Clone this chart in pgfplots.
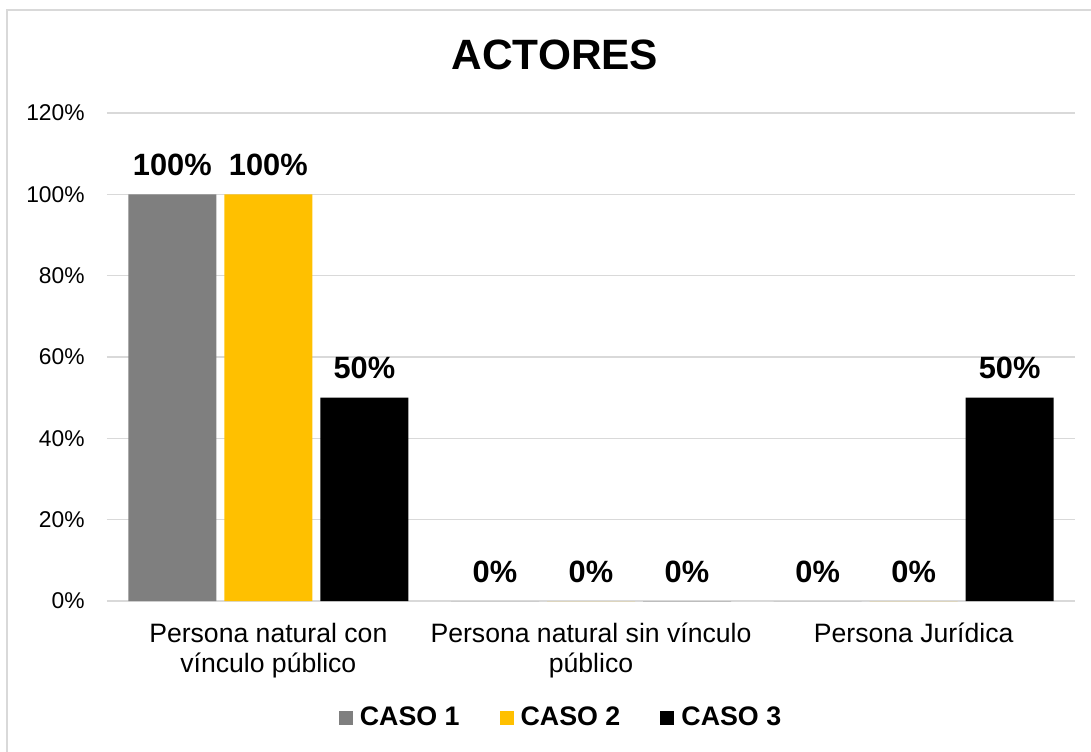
\documentclass[border=0pt]{standalone}
\usepackage{pgfplots}
\pgfplotsset{compat=1.18}
\usepackage{fontspec}
\setmainfont{Liberation Sans}
\definecolor{c1}{HTML}{7F7F7F}
\definecolor{c2}{HTML}{FFC000}
\definecolor{c3}{HTML}{000000}
\definecolor{gridc}{HTML}{D9D9D9}
\begin{document}
\begin{tikzpicture}
\begin{axis}[
  name=ax,
  at={(0,0)}, anchor=south west,
  scale only axis,
  width=484pt, height=244pt,
  ybar=4pt, bar width=44pt,
  xmin=-0.5, xmax=2.5,
  ymin=0, ymax=120,
  enlargelimits=false,
  xtick={0,1,2},
  xticklabels={{\rule{0pt}{12pt}Persona natural con\\vínculo público},{\rule{0pt}{12pt}Persona natural sin vínculo\\público},{\rule{0pt}{12pt}Persona Jurídica}},
  xticklabel style={align=center, anchor=north, inner sep=0pt, yshift=-8.5pt, font=\fontsize{13.3}{15.2}\selectfont},
  ytick={0,20,40,60,80,100,120},
  yticklabels={0\%,20\%,40\%,60\%,80\%,100\%,120\%},
  yticklabel style={anchor=east, inner sep=0pt, xshift=-11pt, font=\fontsize{11.4}{13}\selectfont},
  major tick length=0pt,
  axis line style={draw=none},
  ymajorgrids,
  major grid style={draw=gridc, line width=0.6pt},
  nodes near coords={\pgfmathprintnumber[assume math mode=true,fixed,precision=0]{\pgfplotspointmeta}\%},
  every node near coord/.append style={anchor=base, inner sep=0pt, yshift=9.5pt, font=\fontsize{15.4}{17}\selectfont\bfseries, text=black},
  legend columns=3,
  legend style={at={(axis description cs:0.468,-0.2398)}, anchor=center, draw=none, fill=none,
    column sep=3.5pt,
    /tikz/every even column/.append style={column sep=20pt},
    nodes={inner sep=0pt, font=\fontsize{13.4}{15}\selectfont\bfseries}},
  legend image code/.code={\fill[#1] (0pt,-3.5pt) rectangle (7pt,3.5pt);},
]
\addplot[fill=c1, draw=none] coordinates {(0,100) (1,0) (2,0)};
\addplot[fill=c2, draw=none] coordinates {(0,100) (1,0) (2,0)};
\addplot[fill=c3, draw=none] coordinates {(0,50) (1,0) (2,50)};
\legend{CASO 1, CASO 2, CASO 3}
\end{axis}
\node[anchor=base, inner sep=0pt, font=\fontsize{21.2}{24}\selectfont\bfseries] at ([shift={(224pt,265.5pt)}]ax.south west) {ACTORES};
\draw[gridc, line width=1pt] ([shift={(-49.75pt,-90pt)}]ax.south west) -- ([shift={(-49.75pt,295.25pt)}]ax.south west) -- ([shift={(510pt,295.25pt)}]ax.south west);
\pgfresetboundingbox
\path[use as bounding box] ([shift={(-53.5pt,-75pt)}]ax.south west) rectangle ([shift={(492pt,300.5pt)}]ax.south west);
\end{tikzpicture}
\end{document}
